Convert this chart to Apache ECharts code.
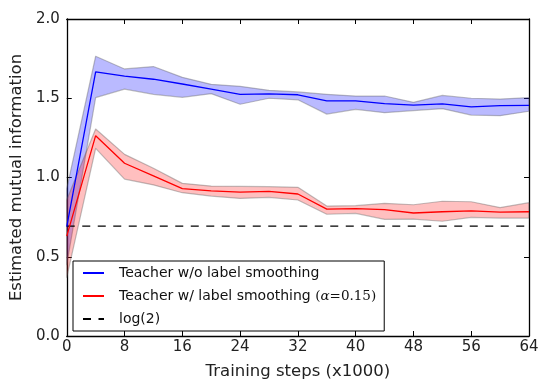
<!DOCTYPE html>
<html><head><meta charset="utf-8">
<script src="https://cdn.jsdelivr.net/npm/echarts@6/dist/echarts.min.js"></script>
<style>html,body{margin:0;padding:0;background:#fff}#c{width:549px;height:390px}</style>
</head><body><div id="c"></div>
<script>
var steps = [0,4,8,12,16,20,24,28,32,36,40,44,48,52,56,60,64];
var blueMean  = [0.69,1.667,1.64,1.62,1.59,1.558,1.525,1.527,1.522,1.483,1.483,1.466,1.457,1.464,1.445,1.453,1.455];
var blueUpper = [0.93,1.765,1.685,1.70,1.632,1.588,1.575,1.55,1.54,1.525,1.514,1.514,1.474,1.518,1.50,1.495,1.504];
var blueLower = [0.45,1.504,1.558,1.525,1.506,1.529,1.462,1.50,1.49,1.40,1.43,1.409,1.422,1.434,1.394,1.39,1.418];
var redMean  = [0.63,1.264,1.09,1.01,0.93,0.915,0.908,0.913,0.896,0.80,0.803,0.797,0.776,0.784,0.79,0.782,0.784];
var redUpper = [0.86,1.306,1.146,1.058,0.963,0.946,0.944,0.942,0.938,0.82,0.822,0.837,0.828,0.85,0.847,0.81,0.841];
var redLower = [0.37,1.184,0.99,0.953,0.904,0.883,0.868,0.875,0.858,0.768,0.774,0.736,0.738,0.724,0.749,0.744,0.744];
var log2 = 0.693;
var xTicks = [0,8,16,24,32,40,48,56,64];
var yTicks = [0.0,0.5,1.0,1.5,2.0];

function pairs(a){ return steps.map(function(s,i){ return [s,a[i]]; }); }

function bandSeries(name, upper, lower, fill){
  return {
    name:name, type:'custom', silent:true, z:1, clip:true,
    data:[[0]],
    renderItem:function(params, api){
      var pts = [];
      for (var i=0;i<steps.length;i++) pts.push(api.coord([steps[i], upper[i]]));
      for (var j=steps.length-1;j>=0;j--) pts.push(api.coord([steps[j], lower[j]]));
      return {type:'polygon', shape:{points:pts},
        style:{fill:fill, stroke:'rgba(90,90,90,0.38)', lineWidth:1.2, lineJoin:'round'}};
    }
  };
}

var font = 'DejaVu Sans';
var chart = echarts.init(document.getElementById('c'));
var axisCommon = {
  min:0, axisLine:{show:true,onZero:false,lineStyle:{color:'#000',width:1.3}},
  axisTick:{show:true,inside:true,length:5,lineStyle:{color:'#000',width:1}},
  splitLine:{show:false}
};
chart.setOption({
  animation:false,
  textStyle:{fontFamily:font},
  grid:{left:64,right:20,top:19,bottom:54,containLabel:false},
  xAxis:[
    Object.assign({}, axisCommon, {type:'value',max:64,interval:8,position:'bottom',
      name:'Training steps (x1000)',nameLocation:'middle',nameGap:27,
      nameTextStyle:{fontFamily:font,fontSize:16.5,color:'#222'},
      axisLabel:{fontFamily:font,fontSize:15,color:'#222',margin:4,
        alignMinLabel:'center',alignMaxLabel:'center'}}),
    Object.assign({}, axisCommon, {type:'value',max:64,interval:8,position:'top',axisLabel:{show:false}})
  ],
  yAxis:[
    Object.assign({}, axisCommon, {type:'value',max:2,interval:0.5,position:'left',
      name:'Estimated mutual information',nameLocation:'middle',nameGap:41,nameRotate:90,
      nameTextStyle:{fontFamily:font,fontSize:16.5,color:'#222'},
      axisLabel:{fontFamily:font,fontSize:15,color:'#222',margin:7,
        verticalAlignMinLabel:'middle',verticalAlignMaxLabel:'middle',
        formatter:function(v){return v.toFixed(1);}}}),
    Object.assign({}, axisCommon, {type:'value',max:2,interval:0.5,position:'right',axisLabel:{show:false}})
  ],
  legend:{
    data:['Teacher w/o label smoothing','Teacher w/ label smoothing','log(2)'],
    orient:'vertical', left:73, top:261,
    padding:[4,8,4,9], itemGap:7, itemWidth:21, itemHeight:16,
    borderColor:'#000', borderWidth:1, backgroundColor:'#fff', borderRadius:0,
    itemStyle:{opacity:0, borderWidth:0},
    textStyle:{fontFamily:font,fontSize:14,color:'#111',lineHeight:16,padding:[0,0,0,10],
      rich:{m:{fontFamily:'DejaVu Serif',fontStyle:'italic',fontSize:13.5,color:'#111'},
            n:{fontFamily:'DejaVu Serif',fontSize:13.5,color:'#111'}}},
    formatter:function(name){
      if(name==='Teacher w/ label smoothing') return name+' {n|(}{m|α}{n|=0.15)}';
      return name;
    }
  },
  series:[
    bandSeries('blueBand', blueUpper, blueLower, 'rgba(0,0,255,0.27)'),
    bandSeries('redBand', redUpper, redLower, 'rgba(255,0,0,0.25)'),
    {name:'log(2)',type:'line',data:[[0,log2],[64,log2]],symbol:'none',
      lineStyle:{color:'#000',width:1.3,type:[8,7.5]},itemStyle:{color:'#000'},z:3},
    {name:'Teacher w/o label smoothing',type:'line',data:pairs(blueMean),symbol:'none',
      lineStyle:{color:'#0000ff',width:1.3},itemStyle:{color:'#0000ff'},z:4},
    {name:'Teacher w/ label smoothing',type:'line',data:pairs(redMean),symbol:'none',
      lineStyle:{color:'#ff0000',width:1.3},itemStyle:{color:'#ff0000'},z:4}
  ]
});
</script></body></html>
